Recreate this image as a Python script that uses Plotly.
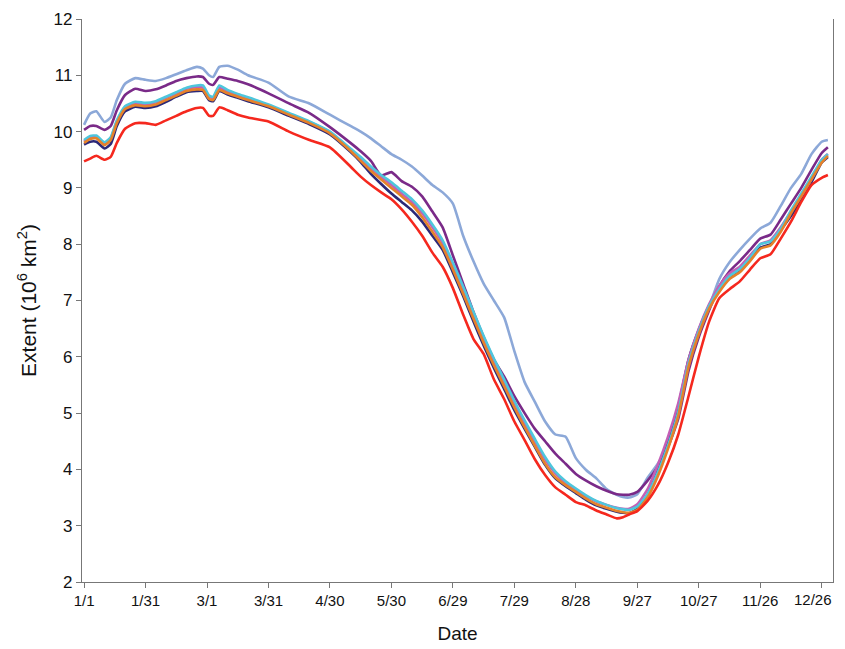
import plotly.graph_objects as go

days = [0,3,6,10,13,16,20,25,30,35,40,45,50,55,58,61,63,66,70,75,80,90,100,110,120,130,135,140,145,150,155,160,165,170,175,180,185,190,195,200,205,210,215,220,225,230,235,240,245,250,255,260,263,266,270,275,280,285,290,295,300,305,310,315,320,325,330,335,340,345,350,355,360,363]

light_blue = [10.12,10.32,10.36,10.17,10.25,10.56,10.85,10.95,10.92,10.9,10.95,11.02,11.09,11.15,11.12,11.0,10.97,11.15,11.17,11.1,11.0,10.87,10.62,10.5,10.3,10.1,10.0,9.88,9.74,9.6,9.5,9.38,9.22,9.05,8.92,8.72,8.15,7.7,7.3,7.0,6.7,6.1,5.55,5.2,4.85,4.62,4.58,4.2,3.99,3.84,3.65,3.55,3.51,3.5,3.56,3.85,4.1,4.42,5.05,5.8,6.4,6.88,7.38,7.68,7.9,8.1,8.28,8.38,8.68,9.0,9.25,9.6,9.82,9.85]

purple = [10.03,10.1,10.1,10.03,10.1,10.38,10.65,10.76,10.72,10.75,10.82,10.9,10.95,10.98,10.97,10.85,10.83,10.97,10.94,10.9,10.84,10.68,10.5,10.33,10.08,9.8,9.65,9.48,9.22,9.28,9.12,9.02,8.85,8.58,8.3,7.8,7.3,6.8,6.35,5.95,5.65,5.3,5.0,4.72,4.5,4.28,4.1,3.92,3.8,3.7,3.62,3.56,3.55,3.55,3.6,3.8,4.05,4.4,4.9,5.75,6.35,6.82,7.25,7.52,7.7,7.9,8.1,8.17,8.44,8.72,9.0,9.32,9.62,9.72]

navy = [9.77,9.82,9.82,9.7,9.78,10.1,10.36,10.44,10.42,10.45,10.53,10.62,10.7,10.72,10.72,10.56,10.54,10.72,10.66,10.6,10.54,10.43,10.28,10.13,9.95,9.64,9.46,9.25,9.07,8.9,8.75,8.6,8.4,8.15,7.9,7.5,7.08,6.63,6.2,5.8,5.43,5.05,4.72,4.4,4.08,3.84,3.7,3.58,3.46,3.36,3.3,3.25,3.23,3.22,3.3,3.55,3.98,4.5,5.12,5.95,6.48,6.9,7.2,7.42,7.55,7.74,7.94,8.0,8.25,8.5,8.78,9.1,9.45,9.55]

pink = [9.83,9.9,9.9,9.79,9.88,10.18,10.43,10.5,10.48,10.52,10.6,10.68,10.76,10.79,10.78,10.62,10.6,10.78,10.71,10.65,10.59,10.47,10.32,10.17,9.99,9.68,9.52,9.35,9.2,9.05,8.9,8.75,8.55,8.3,8.02,7.62,7.2,6.75,6.32,5.92,5.55,5.18,4.82,4.5,4.18,3.93,3.76,3.62,3.52,3.43,3.37,3.32,3.3,3.3,3.38,3.65,4.08,4.58,5.18,5.95,6.5,6.93,7.26,7.48,7.6,7.8,8.0,8.07,8.3,8.58,8.85,9.15,9.5,9.6]

cyan = [9.85,9.92,9.93,9.81,9.9,10.2,10.45,10.53,10.51,10.54,10.62,10.7,10.78,10.82,10.82,10.64,10.62,10.82,10.74,10.67,10.61,10.48,10.33,10.18,10.0,9.7,9.55,9.38,9.23,9.1,8.95,8.8,8.6,8.35,8.07,7.67,7.25,6.8,6.37,5.97,5.6,5.22,4.87,4.54,4.22,3.96,3.79,3.66,3.54,3.44,3.37,3.31,3.29,3.28,3.34,3.56,3.95,4.43,5.02,5.88,6.45,6.9,7.2,7.43,7.56,7.76,8.0,8.05,8.27,8.6,8.9,9.2,9.5,9.6]

orange = [9.8,9.87,9.88,9.76,9.85,10.15,10.4,10.47,10.45,10.48,10.56,10.64,10.72,10.75,10.74,10.58,10.56,10.74,10.68,10.62,10.56,10.45,10.3,10.15,9.97,9.66,9.48,9.3,9.15,9.0,8.85,8.7,8.48,8.22,7.95,7.55,7.12,6.68,6.25,5.85,5.48,5.1,4.75,4.42,4.1,3.86,3.72,3.6,3.48,3.38,3.32,3.26,3.24,3.23,3.28,3.5,3.88,4.37,4.95,5.82,6.4,6.85,7.15,7.38,7.5,7.7,7.92,7.98,8.22,8.55,8.85,9.15,9.45,9.57]

red = [9.47,9.52,9.57,9.5,9.55,9.8,10.05,10.15,10.15,10.12,10.2,10.28,10.36,10.42,10.42,10.28,10.28,10.43,10.38,10.3,10.25,10.18,10.0,9.85,9.72,9.38,9.2,9.05,8.92,8.8,8.62,8.4,8.15,7.85,7.6,7.22,6.75,6.32,6.05,5.6,5.25,4.85,4.52,4.18,3.9,3.68,3.55,3.42,3.36,3.27,3.2,3.13,3.15,3.2,3.26,3.44,3.72,4.12,4.62,5.3,6.0,6.62,7.04,7.2,7.34,7.55,7.75,7.82,8.1,8.4,8.75,9.05,9.18,9.23]

tick_days = [0,30,60,90,120,150,180,210,240,270,300,330,360]
tick_labels = ["1/1","1/31","3/1","3/31","4/30","5/30","6/29","7/29","8/28","9/27","10/27","11/26","12/26"]

series = [
    ("light_blue", light_blue, "#8CA8D8"),
    ("purple", purple, "#7A2A88"),
    ("navy", navy, "#2C2877"),
    ("pink", pink, "#C45FB6"),
    ("cyan", cyan, "#4EC6DC"),
    ("orange", orange, "#E5822A"),
    ("red", red, "#F5281E"),
]

fig = go.Figure()
for name, vals, col in series:
    fig.add_trace(go.Scatter(x=days, y=vals, mode="lines", name=name,
                             line=dict(color=col, width=2.6, shape="spline", smoothing=0.5)))

font = "Liberation Sans, Arial, sans-serif"
# the last tick label sits at the page edge; draw it as a right-anchored annotation so it is not clipped
shown_ticktext = tick_labels[:-1] + [""]
fig.add_annotation(x=tick_days[-1], y=0, xref="x", yref="paper", text=tick_labels[-1],
                   showarrow=False, xanchor="right", yanchor="top", xshift=12, yshift=-7,
                   font=dict(size=15, family=font, color="#111"))

# page body adds an 8px offset; figure sized so the plot area lands where the reference has it
fig.update_layout(
    width=837, height=641,
    margin=dict(l=74, r=12, t=11, b=67),
    paper_bgcolor="white", plot_bgcolor="white",
    showlegend=False,
    font=dict(family=font, color="#111"),
)
fig.update_xaxes(
    range=[-1, 365.5], tickmode="array", tickvals=tick_days, ticktext=shown_ticktext,
    automargin=False,
    showgrid=False, zeroline=False, showline=True, linecolor="#777", linewidth=1.2,
    ticks="outside", ticklen=5, tickcolor="#777",
    tickfont=dict(size=15, family=font, color="#111"),
    title=dict(text="Date", font=dict(size=19, family=font, color="#111"), standoff=18),
)
fig.update_yaxes(
    range=[2, 12], tickmode="array", tickvals=list(range(2, 13)),
    automargin=False,
    showgrid=False, zeroline=False, showline=True, linecolor="#777", linewidth=1.2, mirror=True,
    ticks="outside", ticklen=5, tickcolor="#777",
    tickfont=dict(size=17, family=font, color="#111"),
    title=dict(text="Extent (10<sup>6</sup> km<sup>2</sup>)", font=dict(size=21, family=font, color="#111"), standoff=11),
)
fig.write_html("out.html")
